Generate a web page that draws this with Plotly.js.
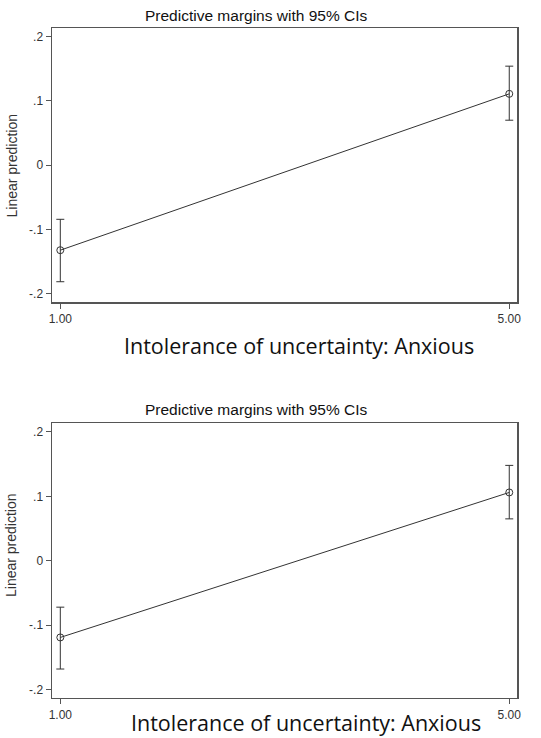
<!DOCTYPE html>
<html>
<head>
<meta charset="utf-8">
<script src="https://cdn.plot.ly/plotly-3.0.1.min.js"></script>
<style>html,body{margin:0;padding:0;background:#fff;}#chart{width:541px;height:738px;}</style>
</head>
<body>
<div id="chart"></div>
<script>
// ---- data ----
const xLevels = [1, 5];
const xTickLabels = ["1.00", "5.00"];
const yTickVals = [-0.2, -0.1, 0, 0.1, 0.2];
const yTickLabels = ["-.2", "-.1", "0", ".1", ".2"];

const marginsTop = [-0.132, 0.111];
const ciLowTop = [-0.181, 0.070];
const ciHighTop = [-0.084, 0.154];

const marginsBottom = [-0.119, 0.106];
const ciLowBottom = [-0.168, 0.065];
const ciHighBottom = [-0.072, 0.148];

const chartTitle = "Predictive margins with 95% CIs";
const yTitle = "Linear prediction";
const xTitle = "Intolerance of uncertainty: Anxious";

// ---- drawing ----
const W = 541, H = 738;
const px = x => x / W;
const py = y => 1 - y / H;
const ink = "#333333";

function trace(m, lo, hi, xa, ya) {
  return {
    x: xLevels, y: m, xaxis: xa, yaxis: ya,
    type: "scatter", mode: "lines+markers",
    line: {color: ink, width: 1},
    marker: {symbol: "circle-open", size: 7, color: ink, line: {width: 1, color: ink}},
    error_y: {
      type: "data", symmetric: false,
      array: hi.map((v, i) => v - m[i]),
      arrayminus: m.map((v, i) => v - lo[i]),
      color: ink, thickness: 1, width: 4
    },
    showlegend: false, hoverinfo: "skip"
  };
}

function xaxisDef(anchor) {
  return {
    domain: [px(52), px(517)], anchor: anchor,
    range: [0.926, 5.069], tickvals: xLevels, ticktext: xTickLabels,
    ticks: "outside", ticklen: 5, tickcolor: "#555", tickwidth: 1,
    showline: true, mirror: true, linecolor: "#555", linewidth: 1.5,
    showgrid: false, zeroline: false,
    tickfont: {family: "Liberation Sans, Arial, sans-serif", size: 12, color: ink}
  };
}
function yaxisDef(anchor, top, bottom) {
  return {
    domain: [py(bottom), py(top)], anchor: anchor,
    range: [-0.2125, 0.2133], tickvals: yTickVals, ticktext: yTickLabels,
    ticks: "outside", ticklen: 5, tickcolor: "#555", tickwidth: 1,
    showline: true, mirror: true, linecolor: "#555", linewidth: 1.5,
    showgrid: false, zeroline: false,
    tickfont: {family: "Liberation Sans, Arial, sans-serif", size: 12, color: ink}
  };
}

const titleFont = {family: "Liberation Sans, Arial, sans-serif", size: 15.5, color: "#111"};
const yTitleFont = {family: "Liberation Sans, Arial, sans-serif", size: 14, color: ink};
const bigFont = {family: "Open Sans, sans-serif", size: 21.5, color: "#111"};

function ann(text, x, y, font, extra) {
  return Object.assign({text: text, x: px(x), y: py(y), xref: "paper", yref: "paper",
    showarrow: false, font: font, xanchor: "center", yanchor: "middle", borderpad: 0}, extra || {});
}

const layout = {
  width: W, height: H,
  margin: {l: 0, r: 0, t: 0, b: 0},
  paper_bgcolor: "#fff", plot_bgcolor: "#fff",
  xaxis: xaxisDef("y"),
  yaxis: yaxisDef("x", 28, 302),
  xaxis2: xaxisDef("y2"),
  yaxis2: yaxisDef("x2", 423.3, 697.7),
  annotations: [
    ann(chartTitle, 256, 15.5, titleFont),
    ann(yTitle, 11, 165.5, yTitleFont, {textangle: -90}),
    ann(xTitle, 299, 345, bigFont),
    ann(chartTitle, 256, 409.5, titleFont),
    ann(yTitle, 11, 545, yTitleFont, {textangle: -90}),
    ann(xTitle, 306, 722, bigFont)
  ]
};

Plotly.newPlot("chart", [
  trace(marginsTop, ciLowTop, ciHighTop, "x", "y"),
  trace(marginsBottom, ciLowBottom, ciHighBottom, "x2", "y2")
], layout, {displayModeBar: false, staticPlot: true});
</script>
</body>
</html>
